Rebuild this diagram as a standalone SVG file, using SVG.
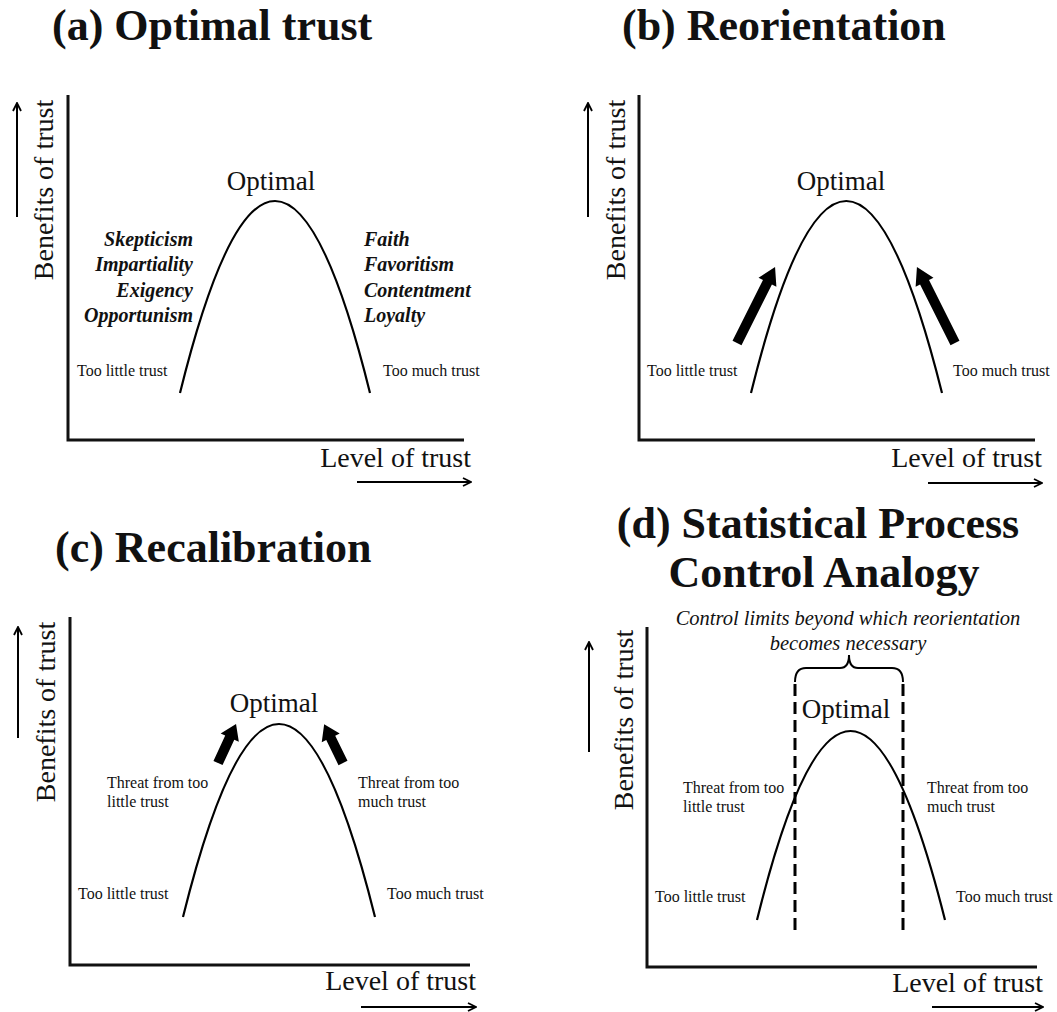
<svg xmlns="http://www.w3.org/2000/svg" width="1057" height="1012" viewBox="0 0 1057 1012">
<style>
text{font-family:"Liberation Serif","Times New Roman",serif;fill:#111}
.title{font-size:44px;font-weight:bold}
.ax{font-size:28px}
.opt{font-size:27px;text-anchor:middle}
.sm{font-size:16px}
.bi{font-size:20px;font-weight:bold;font-style:italic}
.it{font-size:20.5px;font-style:italic;text-anchor:middle}
.axis{fill:none;stroke:#111;stroke-width:3}
.curve{fill:none;stroke:#000;stroke-width:2.2}
.dir{fill:none;stroke:#000;stroke-width:2;marker-end:url(#ah)}
.dash{fill:none;stroke:#000;stroke-width:3;stroke-dasharray:12 6}
.thick{fill:#000}
</style>
<defs>
<marker id="ah" viewBox="0 0 10 10" refX="9" refY="5" markerWidth="10" markerHeight="10" markerUnits="userSpaceOnUse" orient="auto"><path d="M1,1 L9,5 L1,9" fill="none" stroke="#000" stroke-width="1.8"/></marker>
<path id="thickL" d="M0,-5 H68 V-10 L85,0 L68,10 V5 H0 Z"/>
<path id="thickS" d="M0,-5 H28 V-10 L43,0 L28,10 V5 H0 Z"/>
</defs>
<rect width="1057" height="1012" fill="#fff"/>

<g id="panel-a">
<text class="title" x="52" y="40">(a) Optimal trust</text>
<path class="axis" d="M68,95 V440 H464"/>
<text class="ax" transform="translate(53,190) rotate(-90)" text-anchor="middle">Benefits of trust</text>
<text class="ax" x="471" y="467" text-anchor="end">Level of trust</text>
<path class="curve" d="M180,393 Q275,9 370,393"/>
<text class="opt" x="271" y="190">Optimal</text>
<g class="bi" text-anchor="end">
<text x="193" y="246">Skepticism</text>
<text x="193" y="271">Impartiality</text>
<text x="193" y="297">Exigency</text>
<text x="193" y="322">Opportunism</text>
</g>
<g class="bi">
<text x="364" y="246">Faith</text>
<text x="364" y="271">Favoritism</text>
<text x="364" y="297">Contentment</text>
<text x="364" y="322">Loyalty</text>
</g>
<text class="sm" x="77" y="376">Too little trust</text>
<text class="sm" x="383" y="376">Too much trust</text>
</g>

<g id="panel-b">
<text class="title" x="622" y="40">(b) Reorientation</text>
<path class="axis" d="M639,95 V440 H1035"/>
<text class="ax" transform="translate(625,190) rotate(-90)" text-anchor="middle">Benefits of trust</text>
<text class="ax" x="1042" y="467" text-anchor="end">Level of trust</text>
<path class="curve" d="M751,393 Q846,9 942,393"/>
<text class="opt" x="841" y="190">Optimal</text>
<text class="sm" x="647" y="376">Too little trust</text>
<text class="sm" x="953" y="376">Too much trust</text>
</g>

<g id="panel-c">
<text class="title" x="55" y="562">(c) Recalibration</text>
<path class="axis" d="M70,617 V965 H470"/>
<text class="ax" transform="translate(55,712) rotate(-90)" text-anchor="middle">Benefits of trust</text>
<text class="ax" x="476" y="990" text-anchor="end">Level of trust</text>
<path class="curve" d="M183,917 Q279,531 375,917"/>
<text class="opt" x="274" y="712">Optimal</text>
<text class="sm" x="107" y="788">Threat from too</text>
<text class="sm" x="107" y="807">little trust</text>
<text class="sm" x="358" y="788">Threat from too</text>
<text class="sm" x="358" y="807">much trust</text>
<text class="sm" x="78" y="899">Too little trust</text>
<text class="sm" x="387" y="899">Too much trust</text>
</g>

<g id="panel-d">
<text class="title" x="818" y="538" text-anchor="middle">(d) Statistical Process</text>
<text class="title" x="824" y="587" text-anchor="middle">Control Analogy</text>
<path class="axis" d="M647,627 V967 H1037"/>
<text class="ax" transform="translate(633,720) rotate(-90)" text-anchor="middle">Benefits of trust</text>
<text class="ax" x="1043" y="992" text-anchor="end">Level of trust</text>
<text class="it" x="848" y="625">Control limits beyond which reorientation</text>
<text class="it" x="848" y="650">becomes necessary</text>
<path fill="none" stroke="#000" stroke-width="2" d="M795,682 Q795,668 806,668 L840,668 Q849,668 849,655 Q849,668 858,668 L892,668 Q903,668 903,682"/>
<path class="dash" d="M795,684 V933"/>
<path class="dash" d="M903,684 V933"/>
<path class="curve" d="M757,920 Q850,542 945,920"/>
<text class="opt" x="846" y="718">Optimal</text>
<text class="sm" x="683" y="793">Threat from too</text>
<text class="sm" x="683" y="812">little trust</text>
<text class="sm" x="927" y="793">Threat from too</text>
<text class="sm" x="927" y="812">much trust</text>
<text class="sm" x="655" y="902">Too little trust</text>
<text class="sm" x="956" y="902">Too much trust</text>
</g>

<g id="connectors">
<path class="dir" d="M17,217 V103"/>
<path class="dir" d="M357,482 H471"/>
<path class="dir" d="M588,217 V103"/>
<path class="dir" d="M928,483 H1042"/>
<path class="dir" d="M18,738 V627"/>
<path class="dir" d="M361,1007 H476"/>
<path class="dir" d="M589,752 V642"/>
<path class="dir" d="M932,1007 H1043"/>
<use href="#thickL" class="thick" transform="translate(737,343) rotate(-63.4)"/>
<use href="#thickL" class="thick" transform="translate(955,343) rotate(-116.6)"/>
<use href="#thickS" class="thick" transform="translate(218,763) rotate(-65.2)"/>
<use href="#thickS" class="thick" transform="translate(343,763) rotate(-116)"/>
</g>
</svg>
